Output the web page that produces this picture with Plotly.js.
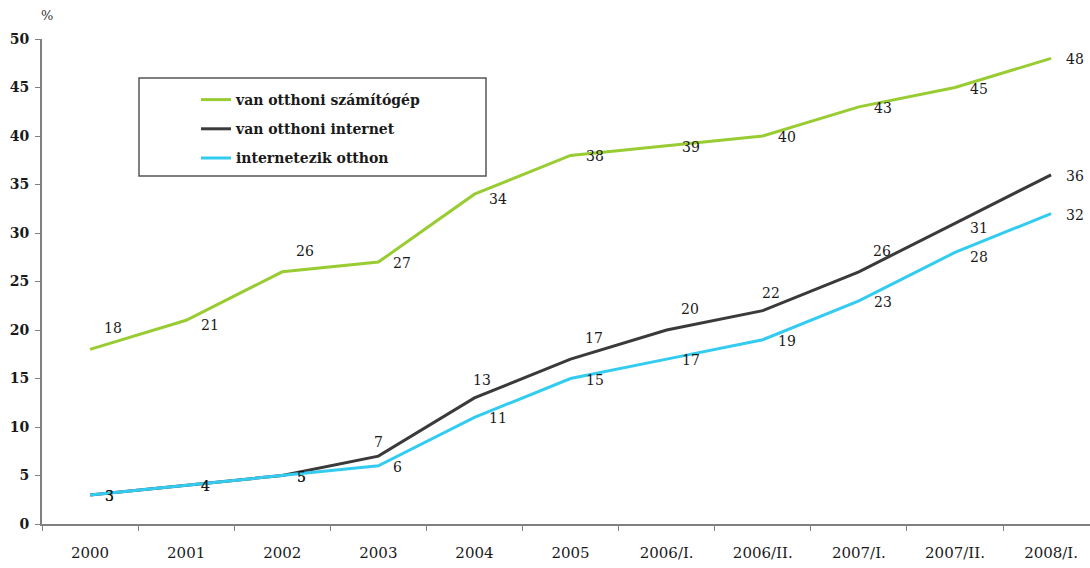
<!DOCTYPE html>
<html>
<head>
<meta charset="utf-8">
<script src="https://cdn.plot.ly/plotly-3.0.1.min.js"></script>
<style>
  html, body { margin: 0; padding: 0; background: #ffffff; }
  #chart { width: 1090px; height: 568px; }
</style>
</head>
<body>
<div id="chart"></div>
<script>
// ---- data ----
const categories = ["2000", "2001", "2002", "2003", "2004", "2005", "2006/I.", "2006/II.", "2007/I.", "2007/II.", "2008/I."];
const seriesNames = ["van otthoni számítógép", "van otthoni internet", "internetezik otthon"];
const computerAtHome = [18, 21, 26, 27, 34, 38, 39, 40, 43, 45, 48];
const internetAtHome = [3, 4, 5, 7, 13, 17, 20, 22, 26, 31, 36];
const usesInternetAtHome = [3, 4, 5, 6, 11, 15, 17, 19, 23, 28, 32];

// label placement codes (style only)
const posComputer = ["ur", "rd", "ur", "r", "rd", "r", "r", "r", "r", "r", "r"];
const posInternet = ["r", "r", "r", "u0", "u", "ur", "ur", "u", "ur", "rd", "r"];
const posUses = ["r", "r", "r", "r", "r", "r", "r", "r", "r", "rd", "r"];

const colors = ["#99cc33", "#3a3a3a", "#33ccf0"];
const serif = "DejaVu Serif, Liberation Serif, serif";

const seriesValues = [computerAtHome, internetAtHome, usesInternetAtHome];
const seriesPos = [posComputer, posInternet, posUses];

const traces = seriesValues.map((vals, i) => ({
  type: "scatter",
  mode: "lines",
  x: categories,
  y: vals,
  name: seriesNames[i],
  legendgroup: "g" + i,
  line: { color: colors[i], width: 3 },
  hoverinfo: "skip"
}));

const offsets = {
  r:  { xanchor: "left", xshift: 13, yshift: -1 },
  rd: { xanchor: "left", xshift: 13, yshift: -5 },
  ur: { xanchor: "left", xshift: 12, yshift: 21 },
  u:  { xanchor: "center", xshift: 8, yshift: 18 },
  u0: { xanchor: "center", xshift: 0, yshift: 14 }
};

const annotations = [];
seriesValues.forEach((vals, i) => {
  vals.forEach((v, j) => {
    const o = offsets[seriesPos[i][j]];
    annotations.push({
      x: categories.indexOf(categories[j]), y: v, xref: "x", yref: "y",
      text: String(v), showarrow: false,
      xanchor: o.xanchor, yanchor: "middle",
      xshift: o.xshift, yshift: o.yshift,
      font: { family: serif, size: 14, color: "#1a1a1a" }
    });
  });
});
annotations.push({
  x: 0, y: 1, xref: "paper", yref: "paper",
  text: "%", showarrow: false, xanchor: "center", yanchor: "bottom",
  xshift: 5, yshift: 14,
  font: { family: serif, size: 13, color: "#333333" }
});

// plot area in pixels: x 42..1090, y 39..524
const L = 42, R = 1090, T = 39, B = 524;
const px = v => (v - L) / (R - L);
const py = v => (B - v) / (B - T);

const layout = {
  width: 1090, height: 568,
  margin: { l: L, r: 1090 - R, t: T, b: 568 - B, pad: 0 },
  paper_bgcolor: "#ffffff",
  plot_bgcolor: "#ffffff",
  showlegend: true,
  legend: {
    x: px(196), y: py(84), xanchor: "left", yanchor: "top",
    bgcolor: "rgba(0,0,0,0)", borderwidth: 0,
    tracegroupgap: 8,
    font: { family: serif, size: 14, color: "#1a1a1a", weight: "bold" }
  },
  xaxis: {
    type: "category",
    categoryorder: "array",
    categoryarray: categories,
    range: [-0.5, 10.405],
    tickson: "boundaries",
    ticks: "outside", ticklen: 5, tickwidth: 1, tickcolor: "#808080",
    showline: true, linecolor: "#808080", linewidth: 2,
    showgrid: false, zeroline: false,
    ticklabelstandoff: 14,
    tickfont: { family: serif, size: 15, color: "#1a1a1a" }
  },
  yaxis: {
    range: [0, 50], dtick: 5, tick0: 0,
    ticks: "outside", ticklen: 5, tickwidth: 1, tickcolor: "#808080",
    showline: true, linecolor: "#808080", linewidth: 2,
    showgrid: false, zeroline: false,
    ticklabelstandoff: 3,
    tickfont: { family: serif, size: 14, color: "#1a1a1a", weight: "bold" }
  },
  shapes: [{
    type: "rect", xref: "paper", yref: "paper",
    x0: px(139), x1: px(486), y0: py(176), y1: py(78),
    line: { color: "#555555", width: 1.5 }, fillcolor: "rgba(0,0,0,0)"
  }],
  annotations: annotations
};

Plotly.newPlot("chart", traces, layout, { displayModeBar: false, staticPlot: true });
</script>
</body>
</html>
